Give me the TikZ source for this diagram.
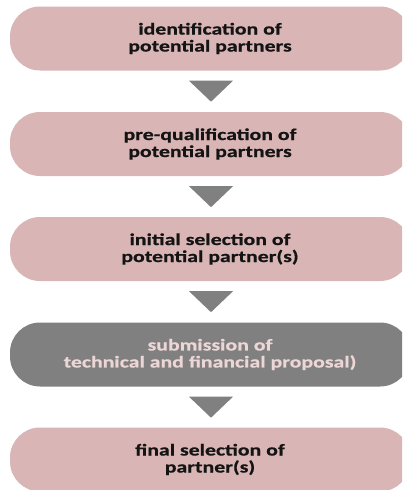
\documentclass[tikz,border=0pt]{standalone}
\usepackage{fontspec}
\setmainfont{Carlito}[FakeStretch=1.32,BoldFeatures={FakeBold=0.6}]
\definecolor{stepfill}{RGB}{217,181,181}
\definecolor{stepdark}{RGB}{128,128,128}
\definecolor{steptextlight}{RGB}{236,214,214}
\definecolor{steptext}{RGB}{20,20,20}
\definecolor{arrowgray}{RGB}{128,128,128}
\begin{document}
\begin{tikzpicture}[x=1pt,y=-1pt,
  stepbox/.style={draw=none,fill=stepfill,rounded corners=30pt,
    minimum width=400pt,minimum height=64pt,inner sep=0pt,
    align=center,text=steptext,
    font=\bfseries\fontsize{16.5}{17}\selectfont},
  darkbox/.style={stepbox,fill=stepdark,text=steptextlight}]
\useasboundingbox (0,0) rectangle (402,490);
\clip (0,0) rectangle (402,490);
\node[stepbox]  (s1) at (210,38.5)  {identification of\\potential partners};
\node[stepbox]  (s2) at (210,144)   {pre-qualification of\\potential partners};
\node[stepbox]  (s3) at (210,249)   {initial selection of\\potential partner(s)};
\node[darkbox]  (s4) at (210,354.5) {submission of\\technical and financial proposal)};
\node[stepbox]  (s5) at (210,459.5) {final selection of\\partner(s)};
% downward triangles between the steps
\foreach \a/\b in {s1/s2,s2/s3,s3/s4,s4/s5}{
  \path (\a.south) ++(1,10) coordinate (t\a);
  \fill[arrowgray] (t\a) ++(-22,0) -- ++(44,0) -- ++(-22,21) -- cycle;
}
\end{tikzpicture}
\end{document}
